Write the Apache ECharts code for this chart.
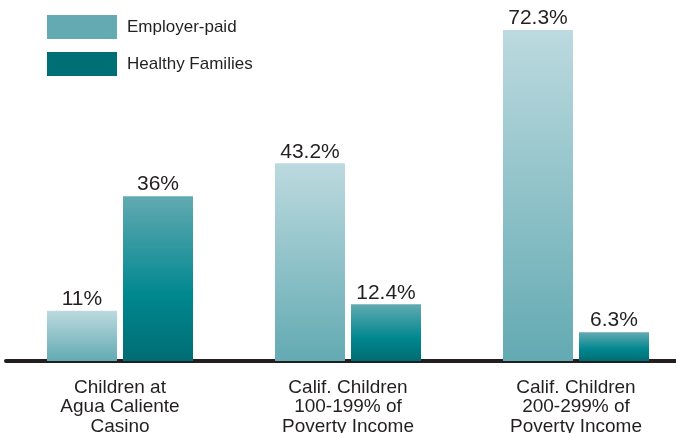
<!DOCTYPE html>
<html><head><meta charset="utf-8">
<script src="https://cdn.jsdelivr.net/npm/echarts@6/dist/echarts.min.js"></script>
<style>html,body{margin:0;padding:0;background:#fff}#c{width:676px;height:433px}</style>
</head><body><div id="c"></div>
<script>
const categories = ['Children at\nAgua Caliente\nCasino', 'Calif. Children\n100-199% of\nPoverty Income', 'Calif. Children\n200-299% of\nPoverty Income'];
const employerPaid = [11, 43.2, 72.3];
const healthyFamilies = [36, 12.4, 6.3];
const seriesNames = ['Employer-paid', 'Healthy Families'];

const chart = echarts.init(document.getElementById('c'), null, {renderer: 'canvas'});
const font = '"Liberation Sans", Arial, sans-serif';
const empGrad = new echarts.graphic.LinearGradient(0, 0, 0, 1, [
  {offset: 0, color: '#bcdadf'}, {offset: 1, color: '#63aab2'}]);
const hfGrad = new echarts.graphic.LinearGradient(0, 0, 0, 1, [
  {offset: 0, color: '#62aab2'}, {offset: 0.6, color: '#00878f'}, {offset: 1, color: '#006c73'}]);
const lbl = {show: true, position: 'top', distance: 1, fontFamily: font, fontSize: 21, color: '#231f20',
  formatter: p => p.value[1] + '%'};
const toPts = arr => arr.map((v, i) => [i, v]);
chart.setOption({
  animation: false,
  legend: {
    orient: 'vertical', left: 42, top: 10, itemWidth: 70, itemHeight: 24, itemGap: 13,
    icon: 'rect',
    textStyle: {fontFamily: font, fontSize: 17, color: '#231f20', padding: [0, 0, 0, 5]},
    data: [
      {name: seriesNames[0], itemStyle: {color: '#63aab2'}},
      {name: seriesNames[1], itemStyle: {color: '#006e75'}}
    ]
  },
  grid: {left: 6, right: 0, top: 30, bottom: 72, containLabel: false, outerBoundsMode: 'none'},
  xAxis: {
    type: 'value', min: -0.5, max: 2.4386, interval: 0.5,
    splitLine: {show: false},
    axisLine: {show: true, onZero: false, lineStyle: {color: '#231f20', width: 4}},
    axisTick: {show: false},
    axisLabel: {
      fontFamily: font, fontSize: 19, color: '#231f20', lineHeight: 19.5, margin: 17,
      showMinLabel: true, showMaxLabel: true, hideOverlap: false,
      formatter: v => {
        const r = Math.round(v);
        return (Math.abs(v - r) < 1e-6 && r >= 0 && r < categories.length) ? categories[r] : '';
      }
    }
  },
  yAxis: {type: 'value', min: 0, max: 72.3, show: false, splitLine: {show: false}},
  series: [
    {name: seriesNames[0], type: 'bar', data: toPts(employerPaid), barWidth: 70, barGap: '8.6%',
     itemStyle: {color: empGrad}, label: lbl},
    {name: seriesNames[1], type: 'bar', data: toPts(healthyFamilies), barWidth: 70,
     itemStyle: {color: hfGrad}, label: lbl}
  ]
});
</script></body></html>
